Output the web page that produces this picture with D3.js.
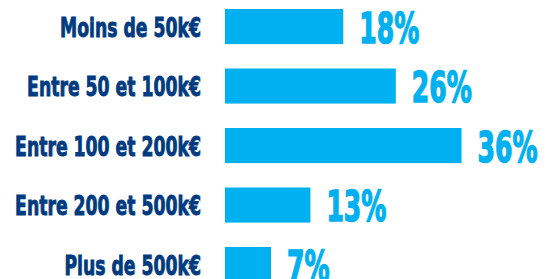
<!DOCTYPE html>
<html>
<head>
<meta charset="utf-8">
<script src="https://cdn.jsdelivr.net/npm/d3@7"></script>
<style>
  body { margin: 0; background: #fff; overflow: hidden; }
  text { font-family: "DejaVu Sans Condensed", "DejaVu Sans", sans-serif; font-weight: bold; font-stretch: condensed; }
</style>
</head>
<body>
<div id="chart"></div>
<script>
// data
var categories = ["Moins de 50k€", "Entre 50 et 100k€", "Entre 100 et 200k€", "Entre 200 et 500k€", "Plus de 500k€"];
var values = [18, 26, 36, 13, 7];

var W = 546, H = 279;
var barLeft = 225;
var labelRight = 201;
var barColor = "#00b0f0";
var labelColor = "#003a80";

var svg = d3.select("#chart").append("svg")
  .attr("width", W)
  .attr("height", H);

var x = d3.scaleLinear()
  .domain([0, 100])
  .range([barLeft, barLeft + 657]);

var y = d3.scaleBand()
  .domain(categories)
  .range([-3.2, 294.3])
  .paddingInner(0.41)
  .paddingOuter(0.205);

var rows = svg.selectAll("g.row")
  .data(categories.map(function (c, i) { return {cat: c, val: values[i]}; }))
  .enter().append("g")
  .attr("class", "row");

rows.append("rect")
  .attr("x", x(0))
  .attr("y", function (d) { return y(d.cat); })
  .attr("width", function (d) { return x(d.val) - x(0); })
  .attr("height", y.bandwidth())
  .attr("fill", barColor);

// no narrow font installed, so squeeze texts horizontally.
// factor taken from the first label: "Moins de 50k€" is ~141px wide in the original
function squeeze(fontSize, refText, refWidth) {
  var probe = svg.append("text").style("font-size", fontSize).text(refText);
  var k = refWidth / probe.node().getComputedTextLength();
  probe.remove();
  return k;
}
var kLab = squeeze("27px", categories[0], 141);
var kVal = squeeze("42px", values[0] + "%", 60);

// category labels (thin stroke to get closer to the heavy original face)
rows.append("text")
  .attr("transform", function (d) {
    return "translate(" + labelRight + "," + (y(d.cat) + y.bandwidth() / 2 + 10) + ") scale(" + kLab + ",1)";
  })
  .attr("text-anchor", "end")
  .attr("fill", labelColor)
  .attr("stroke", labelColor)
  .attr("stroke-width", 0.9)
  .style("font-size", "27px")
  .text(function (d) { return d.cat; });

// value labels
rows.append("text")
  .attr("transform", function (d) {
    return "translate(" + (x(d.val) + 16) + "," + (y(d.cat) + y.bandwidth() / 2 + 16) + ") scale(" + kVal + ",1)";
  })
  .attr("fill", barColor)
  .attr("stroke", barColor)
  .attr("stroke-width", 1.4)
  .style("font-size", "42px")
  .text(function (d) { return d.val + "%"; });
</script>
</body>
</html>
